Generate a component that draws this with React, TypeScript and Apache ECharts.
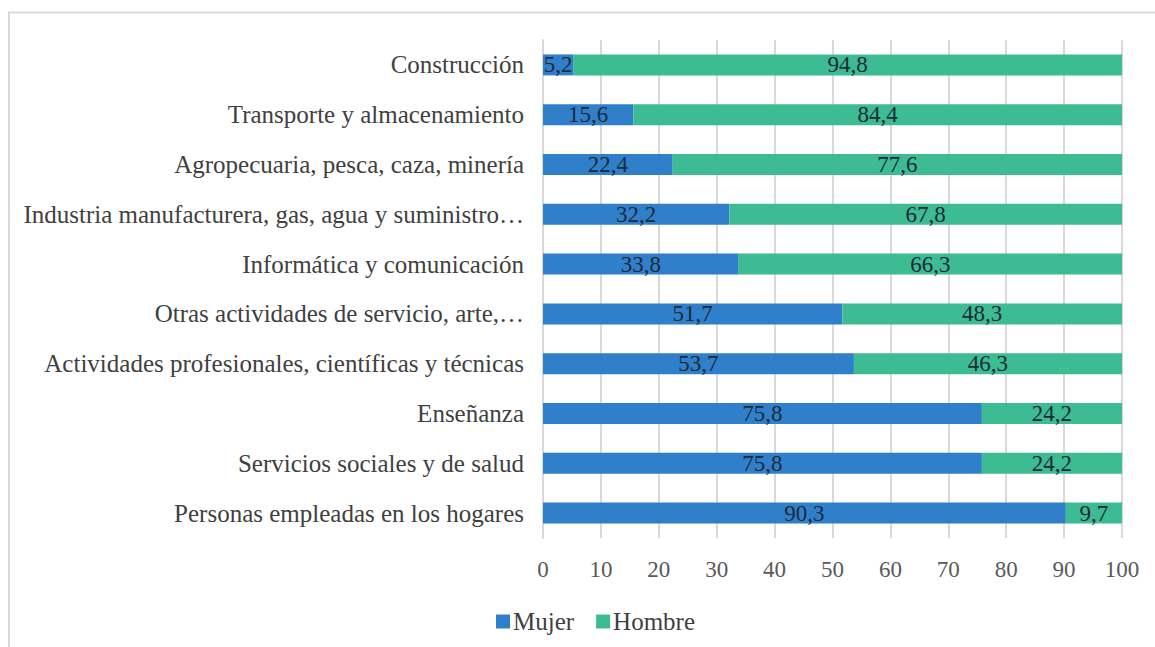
import React, { useEffect, useRef } from "react";
import * as echarts from "echarts";

const categories = [
  "Construcción",
  "Transporte y almacenamiento",
  "Agropecuaria, pesca, caza, minería",
  "Industria manufacturera, gas, agua y suministro…",
  "Informática y comunicación",
  "Otras actividades de servicio, arte,…",
  "Actividades profesionales, científicas y técnicas",
  "Enseñanza",
  "Servicios sociales y de salud",
  "Personas empleadas en los hogares",
];
const mujer = [5.2, 15.6, 22.4, 32.2, 33.8, 51.7, 53.7, 75.8, 75.8, 90.3];
const hombre = [94.8, 84.4, 77.6, 67.8, 66.3, 48.3, 46.3, 24.2, 24.2, 9.7];
const xTicks = [0, 10, 20, 30, 40, 50, 60, 70, 80, 90, 100];

const FONT = "Liberation Serif";

export default function App() {
  const ref = useRef<HTMLDivElement>(null);
  useEffect(() => {
    if (!ref.current) return;
    const chart = echarts.init(ref.current, null, { renderer: "svg" });
    const fmt = (p: any) => String(p.value).replace(".", ",");
    chart.setOption({
      animation: false,
      backgroundColor: "#ffffff",
      textStyle: { fontFamily: FONT },
      graphic: [
        { type: "line", shape: { x1: 8, y1: 12.5, x2: 1155, y2: 12.5 }, style: { stroke: "#d9d9d9", lineWidth: 2 } },
        { type: "line", shape: { x1: 9, y1: 12, x2: 9, y2: 647 }, style: { stroke: "#d9d9d9", lineWidth: 2 } },
      ],
      grid: { left: 543, right: 33, top: 40, bottom: 109, containLabel: false },
      legend: {
        left: 491,
        top: 604,
        itemWidth: 14,
        itemHeight: 14,
        itemGap: 22,
        icon: "rect",
        textStyle: { fontFamily: FONT, fontSize: 25, color: "#404040", padding: [0, 0, 0, -2] },
        data: ["Mujer", "Hombre"],
      },
      xAxis: {
        type: "value",
        min: 0,
        max: 100,
        interval: 10,
        axisLine: { show: false },
        axisTick: { show: false },
        splitLine: { show: true, lineStyle: { color: "#d9d9d9", width: 2 } },
        axisLabel: {
          fontFamily: FONT,
          fontSize: 23,
          color: "#595959",
          margin: 20,
          formatter: (v: number) => (xTicks.includes(v) ? String(v) : ""),
        },
      },
      yAxis: {
        type: "category",
        inverse: true,
        data: categories,
        axisLine: { show: true, lineStyle: { color: "#d9d9d9", width: 2 } },
        axisTick: { show: false },
        axisLabel: { fontFamily: FONT, fontSize: 25, color: "#404040", margin: 19 },
      },
      series: [
        {
          name: "Mujer",
          type: "bar",
          stack: "total",
          data: mujer,
          barWidth: 21,
          itemStyle: { color: "#2f7fcb" },
          label: { show: true, position: "inside", fontFamily: FONT, fontSize: 23, color: "#1c2b3a", formatter: fmt },
        },
        {
          name: "Hombre",
          type: "bar",
          stack: "total",
          data: hombre,
          barWidth: 21,
          itemStyle: { color: "#3dbb92" },
          label: { show: true, position: "inside", fontFamily: FONT, fontSize: 23, color: "#1c2b3a", formatter: fmt },
        },
      ],
    });
    return () => chart.dispose();
  }, []);
  return (
    <div
      ref={ref}
      style={{ position: "absolute", left: 0, top: 0, width: 1155, height: 647 }}
    />
  );
}
